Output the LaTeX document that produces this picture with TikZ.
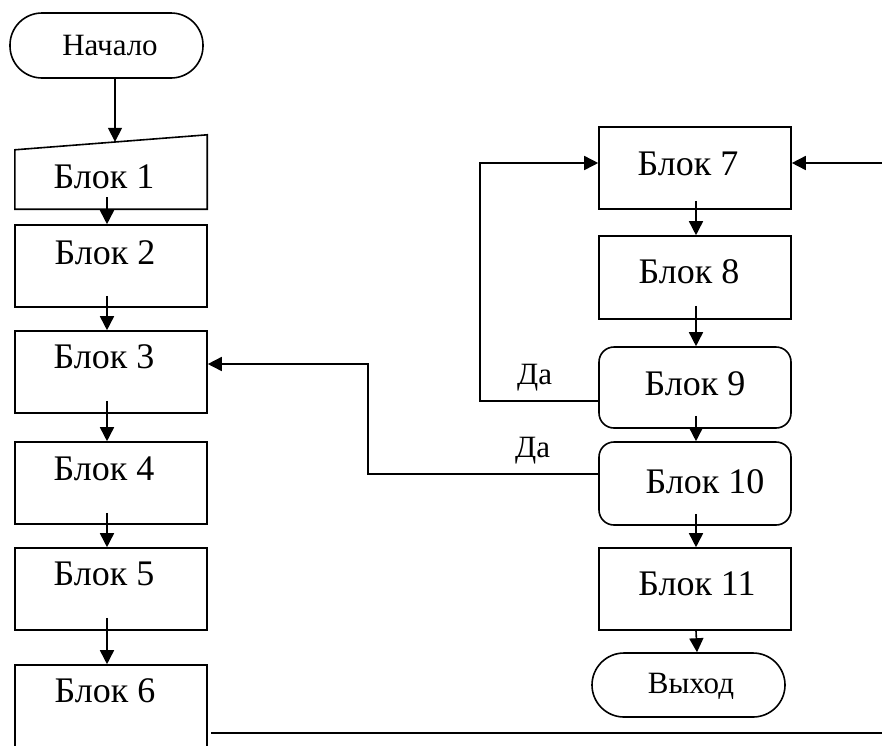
\documentclass[tikz,border=0pt]{standalone}
\usepackage{fontspec}
\setmainfont{Liberation Serif}
\usetikzlibrary{arrows.meta,calc}
\tikzset{
  ln/.style={line width=1.6pt},
  arr/.style={ln,-{Triangle[length=14pt,width=14pt]}},
  box/.style={draw,line width=1.6pt,minimum width=192pt,minimum height=82pt,inner sep=0pt},
  rbox/.style={box,rounded corners=15pt},
  term/.style={draw,line width=1.6pt,minimum width=193pt,minimum height=65pt,inner sep=0pt,rounded corners=32pt},
  lbl/.style={inner sep=0pt,anchor=base,font=\fontsize{36}{40}\selectfont},
  slbl/.style={inner sep=0pt,anchor=base,font=\fontsize{31}{35}\selectfont},
}
\begin{document}
\begin{tikzpicture}[x=1pt,y=-1pt]
\useasboundingbox (0,0) rectangle (882,745);
\clip (0,0) rectangle (882,745);
% left column
\node[term] (start) at (106.5,45.5) {};
\node[slbl] (tstart) at (110,55) {Начало};
\node[inner sep=0pt,minimum width=192pt,minimum height=74pt] (b1) at (111,172) {};
\draw[ln] (b1.south west) -- (b1.south east) -- (b1.north east) -- ([yshift=-15pt]b1.north west) -- cycle;
\node[lbl] (t1) at (104,188) {Блок 1};
\node[box] (b2) at (111,266) {};
\node[lbl] (t2) at (105,264) {Блок 2};
\node[box] (b3) at (111,372) {};
\node[lbl] (t3) at (104,368) {Блок 3};
\node[box] (b4) at (111,483) {};
\node[lbl] (t4) at (104,480) {Блок 4};
\node[box] (b5) at (111,589) {};
\node[lbl] (t5) at (104,585) {Блок 5};
\node[box,minimum height=120pt] (b6) at (111,725) {};
\node[lbl] (t6) at (105,702) {Блок 6};
% right column
\node[box] (b7) at (695,168) {};
\node[lbl] (t7) at (688,175) {Блок 7};
\node[box,minimum height=83pt] (b8) at (695,277.5) {};
\node[lbl] (t8) at (689,283) {Блок 8};
\node[rbox,minimum height=81pt] (b9) at (695,387.5) {};
\node[lbl] (t9) at (695,395) {Блок 9};
\node[rbox,minimum height=83pt] (b10) at (695,483.5) {};
\node[lbl] (t10) at (705,493) {Блок 10};
\node[box] (b11) at (695,589) {};
\node[lbl] (t11) at (697,595) {Блок 11};
\node[term,minimum height=64pt] (exit) at (688.5,685) {};
\node[slbl] (texit) at (691,693) {Выход};
\node[slbl,anchor=base west] (da1) at (517,384) {Да};
\node[slbl,anchor=base west] (da2) at (515,457) {Да};
\coordinate (rin) at (882,163);
\coordinate (bl) at (211,733);
\coordinate (br) at (882,733);
% connectors left
\draw[arr] ([xshift=8.5pt]start.south) -- ([xshift=4pt,yshift=-7pt]b1.north);
\draw[arr] ([xshift=-4pt,yshift=12pt]b1.south) -- ([xshift=-4pt]b2.north);
\draw[arr] ([xshift=-4pt,yshift=12pt]b2.south) -- ([xshift=-4pt]b3.north);
\draw[arr] ([xshift=-4pt,yshift=13pt]b3.south) -- ([xshift=-4pt]b4.north);
\draw[arr] ([xshift=-4pt,yshift=12pt]b4.south) -- ([xshift=-4pt]b5.north);
\draw[arr] ([xshift=-4pt,yshift=13pt]b5.south) -- ([xshift=-4pt]b6.north);
% connectors right
\draw[arr] ([xshift=1pt,yshift=9pt]b7.south) -- ([xshift=1pt]b8.north);
\draw[arr] ([xshift=1pt,yshift=14pt]b8.south) -- ([xshift=1pt]b9.north);
\draw[arr] ([xshift=1pt,yshift=13pt]b9.south) -- ([xshift=1pt]b10.north);
\draw[arr] ([xshift=1pt,yshift=12pt]b10.south) -- ([xshift=1pt]b11.north);
\draw[arr] ([xshift=1pt]b11.south) -- ([xshift=8.5pt]exit.north);
\draw[arr] (rin) -- ([yshift=5pt]b7.east);
\draw[arr] ([yshift=-13.5pt]b9.west) -- ++(-118,0) |- ([yshift=5pt]b7.west);
\draw[arr] ([yshift=9.5pt]b10.west) -- ++(-230,0) |- ([yshift=8pt]b3.east);
\draw[ln] (bl) -- (br);
\end{tikzpicture}
\end{document}
